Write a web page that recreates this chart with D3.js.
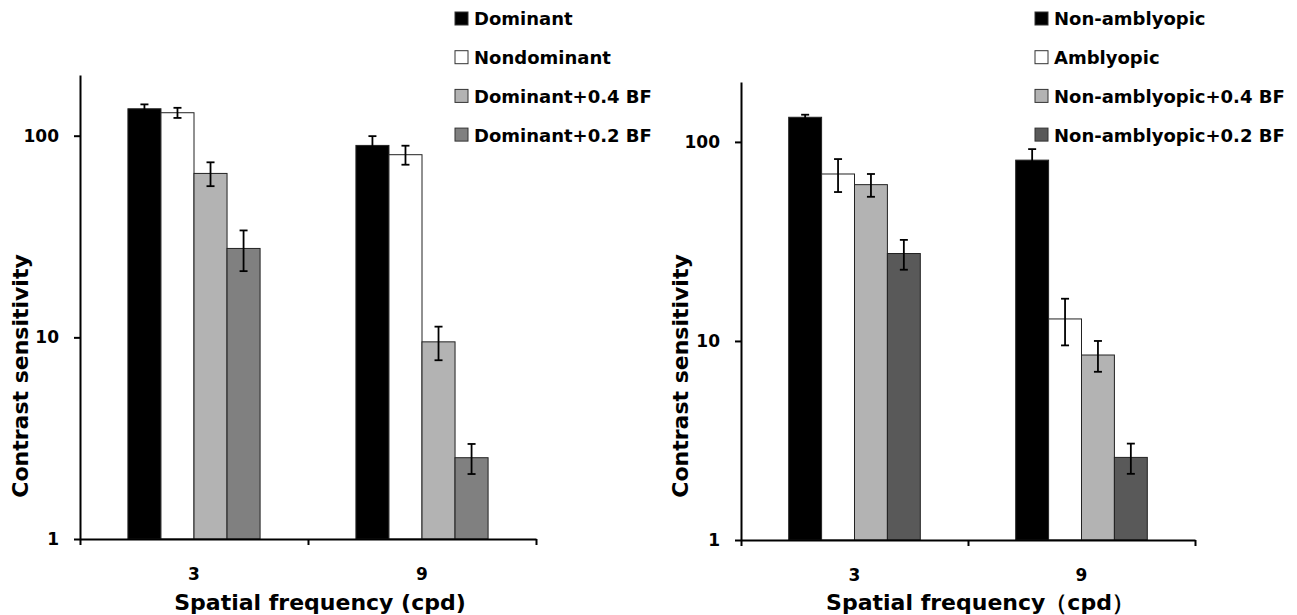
<!DOCTYPE html>
<html>
<head>
<meta charset="utf-8">
<script src="https://cdn.jsdelivr.net/npm/d3@7"></script>
<style>
  body { margin: 0; background: #fff; }
  svg { font-family: "DejaVu Sans", "Liberation Sans", Arial, sans-serif; font-weight: bold; }
  .axis text { font-family: "DejaVu Sans", "Liberation Sans", Arial, sans-serif; font-weight: bold; font-size: 17px; fill: #000; }
</style>
</head>
<body>
<div id="chart"></div>
<script>
// categories and tick labels
var categories = ["3", "9"];
var yTicks = [1, 10, 100];

// left panel
var leftSeries = ["Dominant", "Nondominant", "Dominant+0.4 BF", "Dominant+0.2 BF"];
var leftMeans = [[136, 130, 65, 27.6], [89.5, 80.5, 9.5, 2.53]];
var leftErrors = [[7, 7.5, 8.8, 6.3], [10, 8.7, 1.8, 0.43]];

// right panel
var rightSeries = ["Non-amblyopic", "Amblyopic", "Non-amblyopic+0.4 BF", "Non-amblyopic+0.2 BF"];
var rightMeans = [[133, 69, 61, 27.5], [81, 12.9, 8.5, 2.6]];
var rightErrors = [[4, 13, 8, 4.7], [11, 3.4, 1.5, 0.45]];

var svg = d3.select("#chart")
  .append("svg")
    .attr("width", 1297)
    .attr("height", 615);

function drawPanel(opt) {
  var g = svg.append("g")
    .attr("transform", "translate(" + opt.left + ",0)");

  // y axis (log)
  var y = d3.scaleLog()
    .domain([1, 200])
    .range([opt.bottom, opt.top]);

  // x axis: categories, then series inside each category
  var x0 = d3.scaleBand()
    .domain(categories)
    .range([0, opt.width]);
  var x1 = d3.scaleBand()
    .domain(opt.series)
    .range([0, x0.bandwidth()])
    .paddingOuter(1.45);

  var rows = [];
  categories.forEach(function(c, i) {
    opt.series.forEach(function(s, j) {
      rows.push({cat: c, ser: s, idx: j, v: opt.means[i][j], e: opt.errors[i][j]});
    });
  });

  // Bars
  g.selectAll(".bar")
    .data(rows)
    .enter()
    .append("rect")
      .attr("x", function(d) { return x0(d.cat) + x1(d.ser); })
      .attr("y", function(d) { return y(d.v); })
      .attr("width", x1.bandwidth())
      .attr("height", function(d) { return y(1) - y(d.v); })
      .attr("fill", function(d) { return opt.colors[d.idx]; })
      .attr("stroke", "#222")
      .attr("stroke-width", 1);

  // error bars
  var eb = g.selectAll(".err")
    .data(rows)
    .enter()
    .append("g")
      .attr("transform", function(d) {
        return "translate(" + (x0(d.cat) + x1(d.ser) + x1.bandwidth() / 2) + ",0)";
      })
      .attr("stroke", "#000")
      .attr("stroke-width", 1.8);
  eb.append("line")
    .attr("y1", function(d) { return y(d.v + d.e); })
    .attr("y2", function(d) { return y(d.v - d.e); });
  eb.append("line")
    .attr("x1", -4).attr("x2", 4)
    .attr("y1", function(d) { return y(d.v + d.e); })
    .attr("y2", function(d) { return y(d.v + d.e); });
  eb.append("line")
    .attr("x1", -4).attr("x2", 4)
    .attr("y1", function(d) { return y(d.v - d.e); })
    .attr("y2", function(d) { return y(d.v - d.e); });

  // Add Y axis
  g.append("g")
    .attr("class", "axis")
    .call(d3.axisLeft(y)
      .tickValues(yTicks)
      .tickFormat(d3.format("d"))
      .tickSize(6)
      .tickSizeOuter(0)
      .tickPadding(15))
    .attr("font-size", null)
    .attr("font-family", null);

  // X axis line with boundary ticks
  var xb = d3.scaleLinear().domain([0, categories.length]).range([0, opt.width]);
  g.append("g")
    .attr("transform", "translate(0," + opt.bottom + ")")
    .call(d3.axisBottom(xb)
      .tickValues(d3.range(categories.length + 1))
      .tickFormat("")
      .tickSize(6)
      .tickSizeOuter(0));

  // category labels
  var xa = g.append("g")
    .attr("class", "axis")
    .attr("transform", "translate(0," + opt.bottom + ")")
    .call(d3.axisBottom(x0).tickSize(0).tickPadding(29))
    .attr("font-size", null)
    .attr("font-family", null);
  xa.select(".domain").remove();

  g.selectAll(".domain, .tick line").attr("stroke", "#000").attr("stroke-width", 2);

  // axis titles
  g.append("text")
    .attr("transform", "translate(" + opt.yTitleX + ",376)rotate(-90)")
    .attr("text-anchor", "middle")
    .attr("dominant-baseline", "central")
    .style("font-size", "22px")
    .text("Contrast sensitivity");
  g.append("text")
    .attr("x", opt.width / 2 + 12)
    .attr("y", 610)
    .attr("text-anchor", "middle")
    .style("font-size", "22px")
    .text(opt.xTitle);

  // legend
  var lg = svg.append("g")
    .attr("transform", "translate(" + opt.legendX + ",0)");
  var item = lg.selectAll(".leg")
    .data(opt.series)
    .enter()
    .append("g")
      .attr("transform", function(d, i) { return "translate(0," + (19 + i * 38.7) + ")"; });
  item.append("rect")
    .attr("x", 0).attr("y", -7)
    .attr("width", 13).attr("height", 13)
    .attr("fill", function(d, i) { return opt.colors[i]; })
    .attr("stroke", "#333")
    .attr("stroke-width", 1);
  item.append("text")
    .attr("x", 19)
    .attr("dy", "0.36em")
    .style("font-size", "18px")
    .text(function(d) { return d; });
}

drawPanel({
  left: 80, width: 456, top: 75, bottom: 539,
  series: leftSeries, means: leftMeans, errors: leftErrors,
  colors: ["#000000", "#ffffff", "#b3b3b3", "#808080"],
  yTitleX: -60, xTitle: "Spatial frequency (cpd)", legendX: 455
});

drawPanel({
  left: 741, width: 454, top: 82, bottom: 540,
  series: rightSeries, means: rightMeans, errors: rightErrors,
  colors: ["#000000", "#ffffff", "#b3b3b3", "#595959"],
  yTitleX: -61, xTitle: "Spatial frequency\uFF08cpd\uFF09", legendX: 1035
});
</script>
</body>
</html>
